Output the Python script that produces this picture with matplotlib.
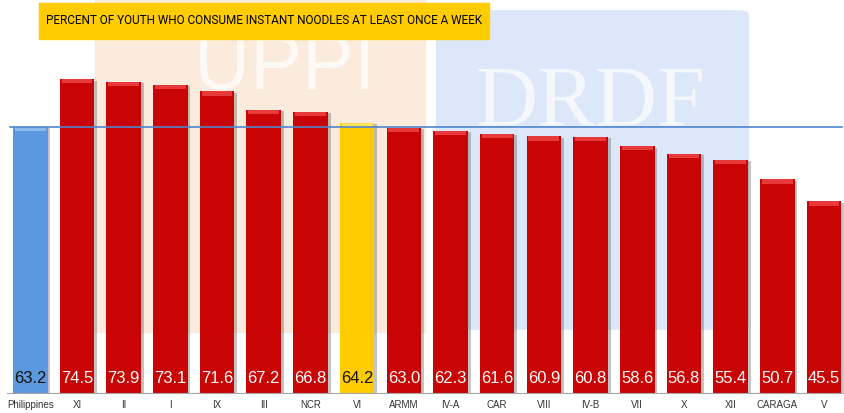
import matplotlib as mpl
mpl.use('Agg')
import matplotlib.pyplot as plt
import matplotlib.patheffects as pe
from matplotlib.patches import Rectangle, FancyBboxPatch

# data
regions = ["Philippines", "XI", "II", "I", "IX", "III", "NCR", "VI", "ARMM", "IV-A",
           "CAR", "VIII", "IV-B", "VII", "X", "XII", "CARAGA", "V"]
values = [63.2, 74.5, 73.9, 73.1, 71.6, 67.2, 66.8, 64.2, 63.0, 62.3,
          61.6, 60.9, 60.8, 58.6, 56.8, 55.4, 50.7, 45.5]
national = 63.2
title = "PERCENT OF YOUTH WHO CONSUME INSTANT NOODLES AT LEAST ONCE A WEEK"

# style
narrow = ["Liberation Sans Narrow", "Liberation Sans", "DejaVu Sans"]
red, blue, yellow = "#C80404", "#5B98DE", "#FFCC00"
tops = {red: "#E83A3A", blue: "#8DB8EC", yellow: "#FFE15A"}
colors = [blue] + [red] * 6 + [yellow] + [red] * 10
txtcol = ["#111111" if c != red else "white" for c in colors]

W, H = 845, 413
fig = plt.figure(figsize=(W / 100, H / 100), dpi=100)

# faint watermark panels behind the chart
fig.patches.append(Rectangle((95 / W, 1 - 332 / H), 330 / W, 332 / H,
                             transform=fig.transFigure, color="#FBEBDC", zorder=-2))
fig.patches.append(FancyBboxPatch((445 / W, 1 - 325 / H), 295 / W, 310 / H,
                                  boxstyle="round,pad=0.01", transform=fig.transFigure,
                                  color="#DCE8FA", zorder=-2))
fig.text(285 / W, 1 - 68 / H, "UPPI", fontsize=56, color="white", ha="center",
         va="center", family="Liberation Sans", alpha=0.7, zorder=-1)
fig.text(590 / W, 1 - 105 / H, "DRDF", fontsize=62, color="white", ha="center",
         va="center", family="Liberation Serif", alpha=0.7, zorder=-1)

ax = fig.add_axes([7 / W, 1 - 393 / H, 838 / W, 337 / H], zorder=1)
ax.set_facecolor("none")
x = list(range(len(values)))
shadow = [pe.SimplePatchShadow(offset=(2, -1), alpha=0.35, shadow_rgbFace="#555555"), pe.Normal()]
bars = ax.bar(x, values, width=0.74, color=colors, zorder=2)
for b in bars:
    b.set_path_effects(shadow)
# bevelled top band
ax.bar(x, [1.0] * len(values), bottom=[v - 1.0 for v in values], width=0.66,
       color=[tops[c] for c in colors], zorder=3)

ax.axhline(national, xmin=0.004, xmax=0.997, color="#4F86CF", lw=1.2, zorder=4)

for xi, v, tc in zip(x, values, txtcol):
    ax.text(xi, 3.5, f"{v:.1f}", ha="center", va="center", fontsize=12,
            color=tc, family=narrow, zorder=5)

ax.set_xlim(-0.5, 17.45)
ax.set_ylim(0, 80)
ax.set_xticks(x)
ax.set_xticklabels(regions, family=narrow, fontsize=7, color="#333333")
ax.tick_params(axis="x", length=0, pad=5)
ax.set_yticks([])
for s in ["top", "right", "left"]:
    ax.spines[s].set_visible(False)
ax.spines["bottom"].set_color("#A6A6A6")

# title box
fig.patches.append(Rectangle((39 / W, 1 - 39 / H), 450 / W, 36 / H,
                             transform=fig.transFigure, color=yellow, zorder=5))
t = fig.text(264 / W, 1 - 21 / H, title, ha="center", va="center", fontsize=12,
             family="Roboto", color="black", zorder=6)
# shrink the title so it fits inside the yellow box
fig.canvas.draw()
tw = t.get_window_extent().width
t.set_fontsize(12 * min(1.0, 436 / tw))

fig.savefig("out.png", dpi=100)
